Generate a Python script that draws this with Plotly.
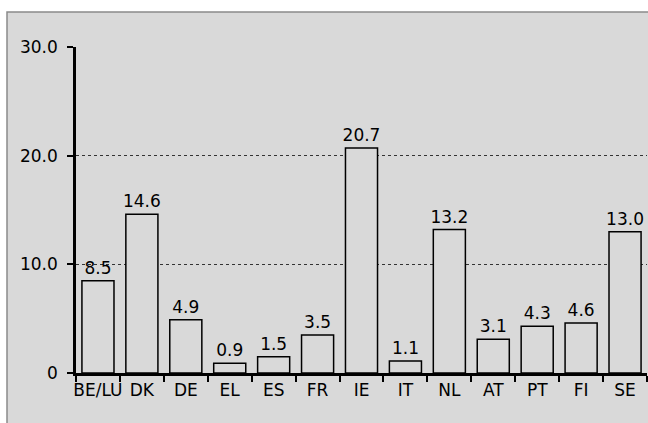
import plotly.graph_objects as go

categories = ["BE/LU", "DK", "DE", "EL", "ES", "FR", "IE", "IT", "NL", "AT", "PT", "FI", "SE"]
values = [8.5, 14.6, 4.9, 0.9, 1.5, 3.5, 20.7, 1.1, 13.2, 3.1, 4.3, 4.6, 13.0]
y_tickvals = [0, 10, 20, 30]
y_ticktext = ["0", "10.0", "20.0", "30.0"]

GRAY = "#d9d9d9"
FONT = "DejaVu Sans"
FS = 17

fig = go.Figure(go.Bar(
    x=categories, y=values,
    marker=dict(color=GRAY, line=dict(color="black", width=1.5)),
    text=[f"{v:.1f}" for v in values],
    textposition="outside",
    cliponaxis=False,
    textfont=dict(family=FONT, size=FS, color="black"),
))

L, R, T, B = 76, 1, 47, 50
W, H = 648, 423
pw, ph = W - L - R, H - T - B

fig.add_shape(type="rect", xref="paper", yref="paper", layer="below",
              x0=(7 - L) / pw, x1=(W + 5 - L) / pw,
              y0=-(B + 5) / ph, y1=(ph + T - 12) / ph,
              fillcolor=GRAY, line=dict(color="#8a8a8a", width=1.5))

fig.update_layout(
    width=W, height=H,
    margin=dict(l=L, r=R, t=T, b=B),
    paper_bgcolor="white",
    plot_bgcolor="rgba(0,0,0,0)",
    showlegend=False,
    bargap=0.27,
    font=dict(family=FONT, size=FS, color="black"),
    uniformtext=dict(mode="show", minsize=FS),
)
fig.update_xaxes(
    type="category", showline=True, linecolor="black", linewidth=2.5,
    ticks="outside", tickson="boundaries", ticklen=6, tickwidth=2, tickcolor="black",
    showgrid=False, tickfont=dict(family=FONT, size=FS), tickangle=0,
)
fig.update_yaxes(
    range=[0, 30], tickvals=y_tickvals, ticktext=y_ticktext,
    showline=True, linecolor="black", linewidth=2.5,
    ticks="outside", ticklen=6, tickwidth=2, tickcolor="black",
    showgrid=True, gridcolor="#333333", gridwidth=1, griddash="dot",
    zeroline=False, tickfont=dict(family=FONT, size=FS),
    ticklabelstandoff=6,
)

fig.write_html("out.html")
